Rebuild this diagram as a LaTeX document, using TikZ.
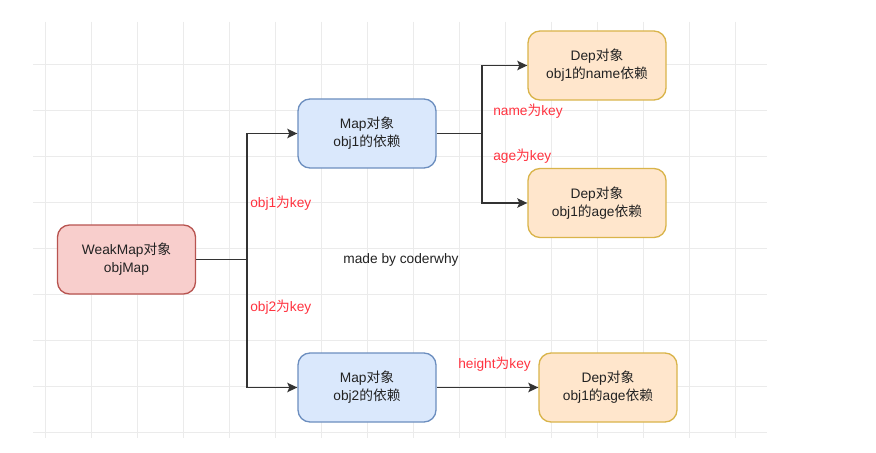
\documentclass[tikz,border=0pt]{standalone}
\usepackage{fontspec}
\setmainfont{Liberation Sans}
\newfontfamily\cjk{Noto Sans CJK SC}
\newcommand{\zh}[1]{{\cjk #1}}
\usetikzlibrary{arrows.meta}

\definecolor{weakfill}{HTML}{F8CECC}
\definecolor{weakline}{HTML}{B85450}
\definecolor{mapfill}{HTML}{DAE8FC}
\definecolor{mapline}{HTML}{6C8EBF}
\definecolor{depfill}{HTML}{FFE6CC}
\definecolor{depline}{HTML}{D9B44A}
\definecolor{keyred}{HTML}{FF3340}
\definecolor{edgegray}{HTML}{333333}
\definecolor{gridgray}{HTML}{EBEBEB}
\definecolor{textgray}{HTML}{222222}

\tikzset{
  box/.style={draw, rounded corners=9, line width=1pt, align=center,
    minimum width=103.5pt, minimum height=51.75pt, inner sep=0pt,
    text=textgray, font=\fontsize{10.3}{13.5}\selectfont},
  weakbox/.style={box, fill=weakfill, draw=weakline},
  mapbox/.style={box, fill=mapfill, draw=mapline},
  depbox/.style={box, fill=depfill, draw=depline},
  keylabel/.style={text=keyred, anchor=west, inner sep=0pt,
    font=\fontsize{10.3}{12}\selectfont},
  link/.style={draw=edgegray, line width=1.1pt},
  arrowlink/.style={link, -{Stealth[length=7.5pt, width=7pt, inset=1.5pt]}},
  gridline/.style={draw=gridgray, line width=0.6pt}
}

\begin{document}
\begin{tikzpicture}[x=0.75pt, y=-0.75pt]
                \useasboundingbox (0,0) rectangle (876,453);
                \fill[white] (0,0) rectangle (876,453);
                % background grid
                \foreach \gx in {45,91,...,735}
                    \draw[gridline] (\gx,22) -- (\gx,438);
                \foreach \gy in {64,110,...,432}
                    \draw[gridline] (33,\gy) -- (767,\gy);

                \node[weakbox] (weak) at (126.5,259.5) {WeakMap\zh{对象}\\objMap};
                \node[mapbox] (map1) at (367,133.5) {Map\zh{对象}\\obj1\zh{的依赖}};
                \node[mapbox] (map2) at (367,387.5) {Map\zh{对象}\\obj2\zh{的依赖}};
                \node[depbox] (dep1) at (597,65.5) {Dep\zh{对象}\\obj1\zh{的}name\zh{依赖}};
                \node[depbox] (dep2) at (597,203) {Dep\zh{对象}\\obj1\zh{的}age\zh{依赖}};
                \node[depbox] (dep3) at (608,387.5) {Dep\zh{对象}\\obj1\zh{的}age\zh{依赖}};

                \coordinate (j1) at (247,259.5);
                \coordinate (j2) at (482,133.5);
                \draw[link] (weak.east) -- (j1);
                \draw[arrowlink] (j1) |- (map1.west);
                \draw[arrowlink] (j1) |- (map2.west);
                \draw[link] (map1.east) -- (j2);
                \draw[arrowlink] (j2) |- (dep1.west);
                \draw[arrowlink] (j2) |- (dep2.west);
                \draw[arrowlink] (map2.east) -- (dep3.west);

                \node[keylabel] (k1) at (250,203) {obj1\zh{为}key};
                \node[keylabel] (k2) at (250,307) {obj2\zh{为}key};
                \node[keylabel] (k3) at (493,111) {name\zh{为}key};
                \node[keylabel] (k4) at (493,156) {age\zh{为}key};
                \node[keylabel] (k5) at (458,364) {height\zh{为}key};
                \node[text=textgray, font=\fontsize{10.3}{12}\selectfont] (credit) at (401,260) {made by coderwhy};
            \end{tikzpicture}
\end{document}
